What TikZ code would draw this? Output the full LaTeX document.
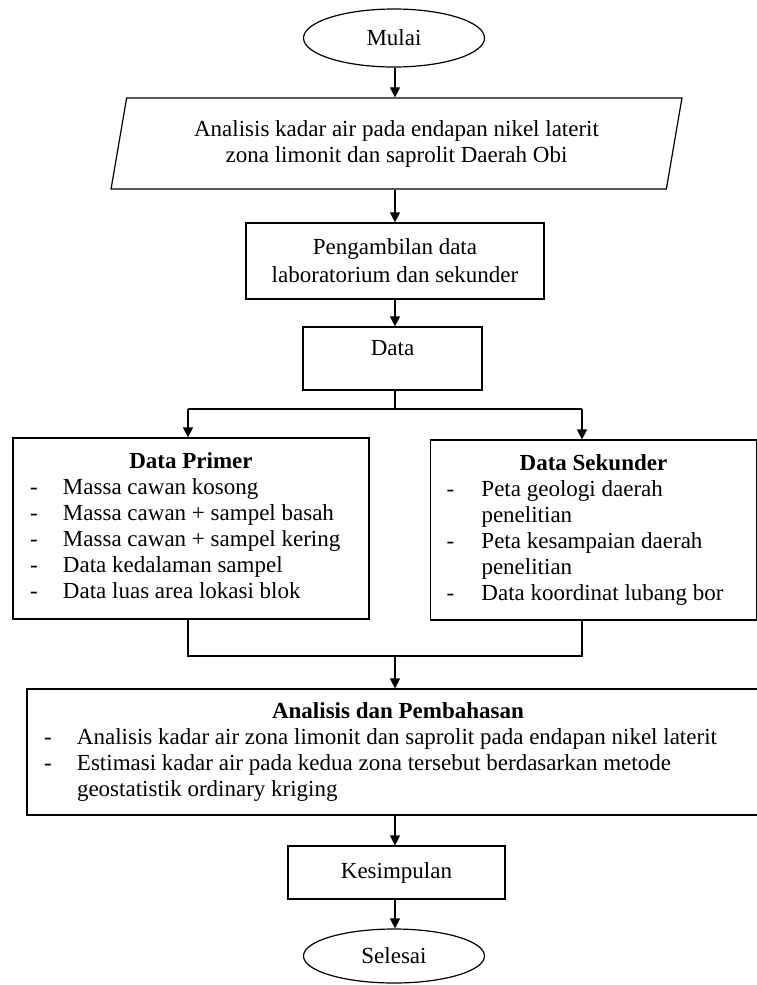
\documentclass[tikz,border=0pt]{standalone}
\usepackage{fontspec}
\setmainfont{Liberation Serif}
\usetikzlibrary{positioning,shapes.geometric,arrows.meta}

\begin{document}
\begin{tikzpicture}[x=1pt,y=-1pt,
    every node/.style={font=\fontsize{23}{26}\selectfont},
    kotak/.style={draw, line width=1.2pt, inner sep=0pt},
    ujung/.style={draw, ellipse, line width=1.2pt,
        minimum width=181pt, minimum height=58pt, inner sep=0pt},
    panah/.style={-{Triangle[length=10pt,width=10pt]}, line width=1.2pt},
    garis/.style={line width=1.2pt}
    ]
\useasboundingbox (0,0) rectangle (757,985);
\coordinate (poros) at (395,0);

\node [ujung] (mulai) at (394,38) {Mulai};
\node [kotak, trapezium,
    trapezium left angle=76,
    trapezium right angle=104,
    trapezium stretches=true,
    minimum width=571pt,
    minimum height=91pt,
    align=center
    ] (masalah) at (396.5,143.5)
    {Analisis kadar air pada endapan nikel laterit\\
     zona limonit dan saprolit Daerah Obi};
\node [kotak,
    minimum width=298pt,
    minimum height=76pt,
    align=center,
    font=\fontsize{23}{28}\selectfont
    ] (ambil) at (395,261)
    {Pengambilan data\\laboratorium dan sekunder};
\node [kotak,
    minimum width=179pt,
    minimum height=63pt,
    text depth=22pt
    ] (data) at (392.5,358.5) {Data};

% dua kelompok data
\node [kotak,
    minimum width=356pt,
    minimum height=181pt
    ] (primer) at (191,528.5)
    {\begin{tabular}{@{}p{33pt}@{}p{289pt}@{}}
     \multicolumn{2}{c}{\textbf{Data Primer}}\\
     - & Massa cawan kosong\\
     - & Massa cawan + sampel basah\\
     - & Massa cawan + sampel kering\\
     - & Data kedalaman sampel\\
     - & Data luas area lokasi blok
     \end{tabular}};
\node [kotak,
    minimum width=326pt,
    minimum height=180pt
    ] (sekunder) at (593.5,530)
    {\begin{tabular}{@{}p{35pt}@{}p{259pt}@{}}
     \multicolumn{2}{c}{\textbf{Data Sekunder}}\\
     - & Peta geologi daerah\\
       & penelitian\\
     - & Peta kesampaian daerah\\
       & penelitian\\
     - & Data koordinat lubang bor
     \end{tabular}};

\node [kotak,
    minimum width=742pt,
    minimum height=126pt
    ] (analisis) at (398,752)
    {\begin{tabular}{@{}p{33pt}@{}p{675pt}@{}}
     \multicolumn{2}{c}{\textbf{Analisis dan Pembahasan}}\\
     - & Analisis kadar air zona limonit dan saprolit pada endapan nikel laterit\\
     - & Estimasi kadar air pada kedua zona tersebut berdasarkan metode\\
       & geostatistik ordinary kriging
     \end{tabular}};
\node [kotak,
    minimum width=217pt,
    minimum height=53pt
    ] (simpulan) at (396.5,872.5) {Kesimpulan};
\node [ujung, minimum height=54pt] (selesai) at (394,956) {Selesai};

% alur
\coordinate (kiri) at (188,409);
\coordinate (kanan) at (582,409);
\coordinate (gabung) at (395,656);
\draw[panah] (poros |- mulai.south) -- (poros |- masalah.north);
\draw[panah] (poros |- masalah.south) -- (poros |- ambil.north);
\draw[panah] (poros |- ambil.south) -- (poros |- data.north);
\draw[garis] (poros |- data.south) -- (poros |- kiri);
\draw[garis] (kiri) -- (kanan);
\draw[panah] (kiri) -- (kiri |- primer.north);
\draw[panah] (kanan) -- (kanan |- sekunder.north);
\draw[garis] (kiri |- primer.south) |- (gabung);
\draw[garis] (kanan |- sekunder.south) |- (gabung);
\draw[panah] (gabung) -- (gabung |- analisis.north);
\draw[panah] (poros |- analisis.south) -- (poros |- simpulan.north);
\draw[panah] (poros |- simpulan.south) -- (poros |- selesai.north);
\end{tikzpicture}
\end{document}
